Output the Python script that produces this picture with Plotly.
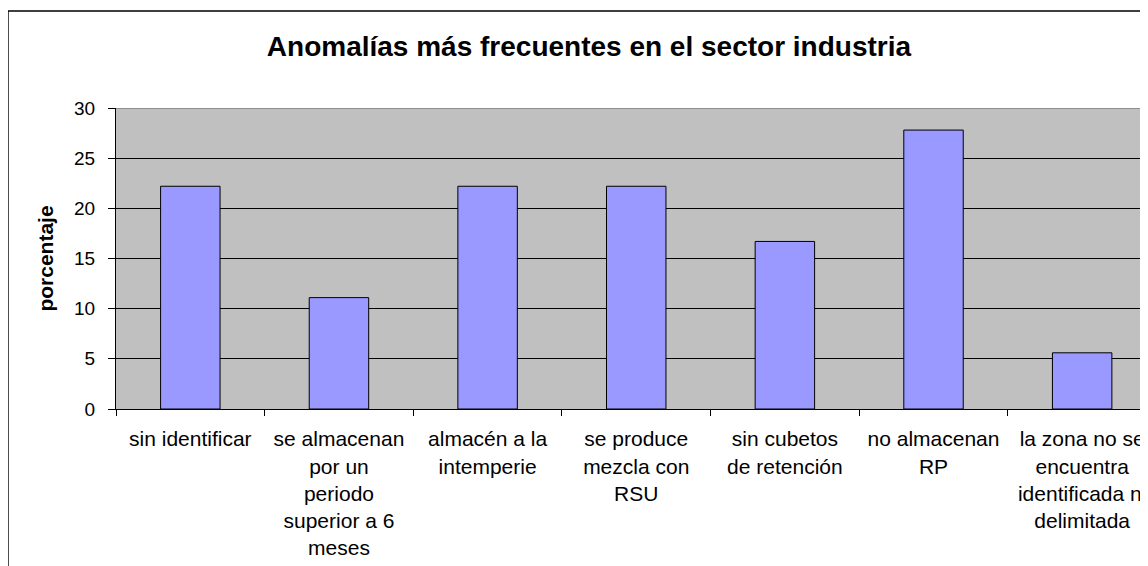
import plotly.graph_objects as go

categories = [
    "sin identificar",
    "se almacenan<br>por un<br>periodo<br>superior a 6<br>meses",
    "almacén a la<br>intemperie",
    "se produce<br>mezcla con<br>RSU",
    "sin cubetos<br>de retención",
    "no almacenan<br>RP",
    "la zona no se<br>encuentra<br>identificada ni<br>delimitada",
]
porcentaje = [22.2, 11.1, 22.2, 22.2, 16.7, 27.8, 5.6]
y_ticks = [0, 5, 10, 15, 20, 25, 30]

FONT = "Liberation Sans, Arial, sans-serif"

fig = go.Figure(
    go.Bar(
        x=categories,
        y=porcentaje,
        width=0.4,
        marker=dict(color="#9999FF", line=dict(color="black", width=1)),
    )
)

# the page body has an 8px margin, so the figure is 8px smaller and shifted
fig.update_layout(
    width=1140,
    height=558,
    margin=dict(l=108, r=0, t=100, b=157),
    paper_bgcolor="white",
    plot_bgcolor="#C0C0C0",
    font=dict(family=FONT, color="black"),
    showlegend=False,
    title=dict(
        text="<b>Anomalías más frecuentes en el sector industria</b>",
        font=dict(size=28, family=FONT, color="black"),
        x=0.5096, xanchor="center", xref="container",
        y=1 - 38 / 558, yanchor="middle", yref="container",
    ),
)

fig.update_xaxes(
    range=[-0.5, 6.443],
    tickson="boundaries",
    ticks="outside",
    ticklen=6,
    tickcolor="black",
    showline=True,
    linecolor="black",
    linewidth=1,
    showgrid=False,
    tickfont=dict(size=21, family=FONT, color="black"),
    tickangle=0,
    ticklabelstandoff=11,
)

fig.update_yaxes(
    range=[0, 30],
    tickvals=y_ticks,
    ticks="outside",
    ticklen=7,
    tickcolor="black",
    showline=True,
    linecolor="black",
    linewidth=1,
    showgrid=True,
    gridcolor="black",
    gridwidth=1,
    zeroline=False,
    tickfont=dict(size=19, family=FONT, color="black"),
    ticklabelstandoff=9,
    title=dict(text="<b>porcentaje</b>", font=dict(size=21, family=FONT, color="black"), standoff=14),
)

# borde superior gris del área de trazado
fig.add_shape(type="line", xref="paper", yref="y", x0=0, x1=1, y0=30, y1=30,
              line=dict(color="#808080", width=1.5))
# marco exterior del gráfico
fig.add_shape(type="rect", xref="paper", yref="paper",
              x0=-0.1047, x1=1.1, y0=-1, y1=1.3223,
              line=dict(color="black", width=1.5), layer="above")

fig.write_html("out.html")
